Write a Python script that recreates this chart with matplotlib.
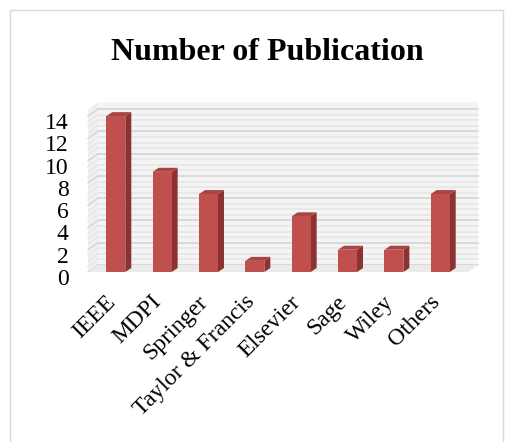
import matplotlib.pyplot as plt
import matplotlib.transforms as mtransforms
from matplotlib.patches import Polygon, Rectangle

publishers = ['IEEE', 'MDPI', 'Springer', 'Taylor & Francis', 'Elsevier', 'Sage', 'Wiley', 'Others']
counts = [14, 9, 7, 1, 5, 2, 2, 7]
yticks = [0, 2, 4, 6, 8, 10, 12, 14]

plt.rcParams['font.family'] = ['Liberation Serif', 'DejaVu Serif']

fig = plt.figure(figsize=(5.13, 4.42), dpi=100)
W, H = 513, 442
ax = fig.add_axes([88 / W, 1 - 272 / H, 380 / W, 167 / H])
ax.set_xlim(-0.6, 7.6)
ax.set_ylim(0, 15)

# offsets for the fake depth (pixels -> inches)
back = ax.transData + mtransforms.ScaledTranslation(10 / 100, 7 / 100, fig.dpi_scale_trans)
side = mtransforms.ScaledTranslation(6 / 100, 4 / 100, fig.dpi_scale_trans)
inv = ax.transData.inverted()


def to_data(tr, pt):
    return inv.transform(tr.transform(pt))


# back wall and grid
ax.add_patch(Rectangle((-0.6, 0), 8.2, 14.6, transform=back, facecolor='#f4f4f4',
                       edgecolor='none', zorder=0, clip_on=False))
for i in range(29):
    v = i * 0.5
    c = '#d4d4d4' if i % 4 == 0 else '#e6e6e6'
    ax.plot([-0.6, 7.6], [v, v], transform=back, color=c, lw=1.2, zorder=1, clip_on=False)

# left wall with slanted grid lines
wall = [(-0.6, 0), to_data(back, (-0.6, 0)), to_data(back, (-0.6, 14.6)), (-0.6, 14.6)]
ax.add_patch(Polygon(wall, closed=True, facecolor='#f0f0f0', edgecolor='none', zorder=0, clip_on=False))
for i in range(29):
    v = i * 0.5
    b = to_data(back, (-0.6, v))
    c = '#d4d4d4' if i % 4 == 0 else '#e8e8e8'
    ax.plot([-0.6, b[0]], [v, b[1]], color=c, lw=1, zorder=1, clip_on=False)
# floor
floor = [(-0.6, 0), to_data(back, (-0.6, 0)), to_data(back, (7.6, 0)), (7.6, 0)]
ax.add_patch(Polygon(floor, closed=True, facecolor='#ebebeb', edgecolor='none', zorder=1, clip_on=False))

# bars with a fake 3D look
w = 0.41
tr_side = ax.transData + side
for i, v in enumerate(counts):
    x0, x1 = i - w / 2, i + w / 2
    ax.add_patch(Rectangle((x0, 0), w, v, facecolor='#c0504d', edgecolor='none', zorder=4))
    poly = [(x1, 0), (x1, v), to_data(tr_side, (x1, v)), to_data(tr_side, (x1, 0))]
    ax.add_patch(Polygon(poly, closed=True, facecolor='#8c3230', edgecolor='none', zorder=3))
    poly = [(x0, v), (x1, v), to_data(tr_side, (x1, v)), to_data(tr_side, (x0, v))]
    ax.add_patch(Polygon(poly, closed=True, facecolor='#a94441', edgecolor='none', zorder=3))

for s in ax.spines.values():
    s.set_visible(False)
ax.set_facecolor('none')
ax.set_yticks(yticks)
ax.set_yticklabels([str(t) for t in yticks], fontsize=17)
ax.set_xticks(range(len(publishers)))
ax.set_xticklabels(publishers, rotation=45, ha='right', va='top', rotation_mode='anchor', fontsize=17)
ax.tick_params(length=0, pad=14)
ax.tick_params(axis='y', pad=14)
down = mtransforms.ScaledTranslation(0, -5 / 100, fig.dpi_scale_trans)
for lab in ax.get_yticklabels():
    lab.set_transform(lab.get_transform() + down)
left = mtransforms.ScaledTranslation(-11 / 100, 0, fig.dpi_scale_trans)
for lab in ax.get_xticklabels():
    lab.set_transform(lab.get_transform() + left)

fig.text(267 / W, 1 - 53 / H, 'Number of Publication', ha='center', va='center',
         fontsize=23, fontweight='bold')
fig.add_artist(Rectangle((10 / W, -0.05), 493 / W, 1 - 10 / H + 0.05, transform=fig.transFigure,
                         facecolor='none', edgecolor='#d9d9d9', lw=1))

fig.savefig('out.png', dpi=100)
